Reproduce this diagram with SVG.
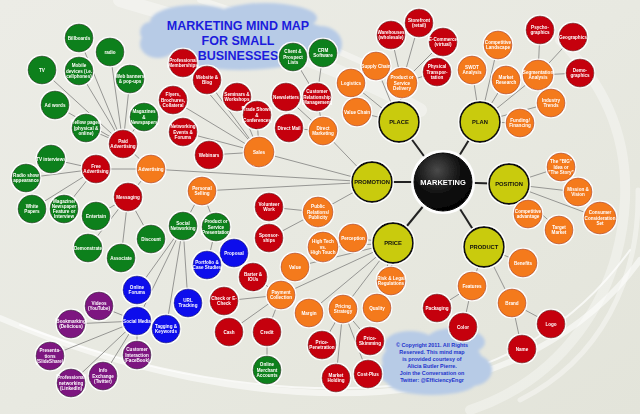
<svg xmlns="http://www.w3.org/2000/svg" width="640" height="414" viewBox="0 0 640 414">
<defs>
<linearGradient id="bg" x1="0" y1="0" x2="1" y2="1">
<stop offset="0" stop-color="#ecece6"/><stop offset="0.5" stop-color="#e8e9e1"/><stop offset="1" stop-color="#e3e4da"/>
</linearGradient>
<radialGradient id="mk" cx="0.4" cy="0.3" r="0.8">
<stop offset="0" stop-color="#4a4a4a"/><stop offset="0.5" stop-color="#111"/><stop offset="1" stop-color="#000"/>
</radialGradient>
<filter id="halo" x="-20%" y="-20%" width="140%" height="140%">
<feMorphology in="SourceAlpha" operator="dilate" radius="1.2" result="d"/>
<feFlood flood-color="#fff"/><feComposite in2="d" operator="in" result="w"/>
<feMerge><feMergeNode in="w"/><feMergeNode in="SourceGraphic"/></feMerge>
</filter>
<filter id="soft"><feGaussianBlur stdDeviation="1.5"/></filter>
</defs>
<style>
.n{filter:url(#halo)}
.n text{font-family:"Liberation Sans",Arial,sans-serif;font-weight:bold;font-size:4.6px;fill:#fff;text-anchor:middle}
.r{fill:#c5000f;stroke:#80000a;stroke-width:0.8}
.o{fill:#f47a1e;stroke:#b85512;stroke-width:0.8}
.g{fill:#11801a;stroke:#0a4d0e;stroke-width:0.8}
.b{fill:#0c0cec;stroke:#00008c;stroke-width:0.8}
.p{fill:#7d1580;stroke:#4a0a4c;stroke-width:0.8}
.y{fill:#c9cb0c;stroke:#111;stroke-width:1.8}
.n text.k{fill:#111;font-size:5.8px}
.c line{stroke:#8c8c8a;stroke-width:0.9}
.m line{stroke:#222;stroke-width:2}
.cl{fill:#b7cbe6}
.t{font-family:"Liberation Sans",Arial,sans-serif;font-weight:bold;text-anchor:middle}
</style>
<rect width="640" height="414" fill="url(#bg)"/>
<g fill="none" stroke="#fff" stroke-linecap="round">
<path d="M0,318 C120,370 260,400 380,392 C500,384 590,330 640,260" stroke-width="6" opacity="0.55"/>
<path d="M20,325 C140,372 270,396 390,386 C500,376 580,320 630,250" stroke-width="2" opacity="0.7"/>
<path d="M470,410 C560,380 620,300 625,200 C628,130 600,80 560,40" stroke-width="10" opacity="0.35"/>
<path d="M520,400 C600,360 640,280 638,190" stroke-width="5" opacity="0.4"/>
<path d="M120,0 C220,30 330,60 420,110" stroke-width="14" opacity="0.35"/>
<path d="M200,0 C280,25 340,50 400,80" stroke-width="6" opacity="0.4"/>
</g>
<g id="title-cloud">
<g class="cl" filter="url(#soft)">
<ellipse cx="240" cy="38" rx="95" ry="22"/>
<ellipse cx="195" cy="22" rx="45" ry="17"/>
<ellipse cx="265" cy="18" rx="52" ry="15"/>
<ellipse cx="158" cy="44" rx="18" ry="14"/>
<ellipse cx="320" cy="44" rx="22" ry="18"/>
<ellipse cx="240" cy="58" rx="62" ry="12"/>
<ellipse cx="150" cy="32" rx="10" ry="10"/>
</g>
<text class="t" x="238" y="30" font-size="12.5" fill="#1c1cdc">MARKETING MIND MAP</text>
<text class="t" x="238" y="45" font-size="12.5" fill="#1c1cdc">FOR SMALL</text>
<text class="t" x="238" y="60" font-size="12.5" fill="#1c1cdc">BUSINESSES</text>
</g>
<g id="copyright-cloud">
<g class="cl" filter="url(#soft)">
<ellipse cx="432" cy="360" rx="50" ry="24"/>
<ellipse cx="410" cy="345" rx="26" ry="14"/>
<ellipse cx="455" cy="342" rx="30" ry="14"/>
<ellipse cx="432" cy="383" rx="44" ry="12"/>
<ellipse cx="398" cy="372" rx="18" ry="14"/>
<ellipse cx="472" cy="370" rx="20" ry="16"/>
</g>
<g class="t" font-size="5.4" fill="#2233cc">
<text x="432" y="347">© Copyright 2011.  All Rights</text>
<text x="432" y="354">Reserved.  This mind map</text>
<text x="432" y="361">is provided courtesy of</text>
<text x="432" y="368">Alicia Butler Pierre.</text>
<text x="432" y="375">Join the Conversation on</text>
<text x="432" y="382">Twitter: @EfficiencyEngr</text>
</g>
</g>
<g id="connectors">
<g class="c">
<line x1="399" y1="122" x2="376" y2="66"/><line x1="399" y1="122" x2="351" y2="83"/><line x1="399" y1="122" x2="357" y2="112"/><line x1="399" y1="122" x2="402" y2="83"/>
<line x1="402" y1="83" x2="391" y2="35"/><line x1="402" y1="83" x2="419" y2="23"/><line x1="402" y1="83" x2="443" y2="42"/><line x1="402" y1="83" x2="437" y2="72"/>
<line x1="480" y1="122" x2="472" y2="70"/><line x1="480" y1="122" x2="498" y2="45"/><line x1="480" y1="122" x2="506" y2="80"/><line x1="480" y1="122" x2="538" y2="75"/><line x1="480" y1="122" x2="551" y2="103"/><line x1="480" y1="122" x2="520" y2="123"/>
<line x1="538" y1="75" x2="540" y2="30"/><line x1="538" y1="75" x2="573" y2="37"/><line x1="538" y1="75" x2="580" y2="73"/>
<line x1="509" y1="184" x2="561" y2="167"/><line x1="509" y1="184" x2="578" y2="192"/><line x1="509" y1="184" x2="600" y2="218"/><line x1="509" y1="184" x2="559" y2="230"/><line x1="509" y1="184" x2="528" y2="214"/>
<line x1="484" y1="247" x2="523" y2="263"/><line x1="484" y1="247" x2="472" y2="286"/><line x1="484" y1="247" x2="512" y2="303"/>
<line x1="472" y1="286" x2="437" y2="308"/><line x1="472" y1="286" x2="463" y2="327"/>
<line x1="512" y1="303" x2="551" y2="324"/><line x1="512" y1="303" x2="522" y2="349"/>
<line x1="393" y1="243" x2="323" y2="247"/><line x1="393" y1="243" x2="353" y2="238"/><line x1="393" y1="243" x2="295" y2="267"/><line x1="393" y1="243" x2="281" y2="295"/><line x1="393" y1="243" x2="309" y2="313"/><line x1="393" y1="243" x2="343" y2="309"/><line x1="393" y1="243" x2="377" y2="308"/><line x1="393" y1="243" x2="391" y2="281"/>
<line x1="281" y1="295" x2="253" y2="277"/><line x1="281" y1="295" x2="224" y2="301"/><line x1="281" y1="295" x2="229" y2="332"/><line x1="281" y1="295" x2="267" y2="332"/>
<line x1="267" y1="332" x2="267" y2="370"/>
<line x1="343" y1="309" x2="322" y2="345"/><line x1="343" y1="309" x2="370" y2="341"/><line x1="343" y1="309" x2="336" y2="378"/><line x1="343" y1="309" x2="368" y2="374"/>
<line x1="372" y1="182" x2="259" y2="152"/><line x1="372" y1="182" x2="151" y2="169"/><line x1="372" y1="182" x2="202" y2="191"/><line x1="372" y1="182" x2="318" y2="212"/><line x1="372" y1="182" x2="323" y2="131"/>
<line x1="318" y1="212" x2="269" y2="207"/><line x1="318" y1="212" x2="269" y2="238"/>
<line x1="259" y1="152" x2="183" y2="63"/><line x1="259" y1="152" x2="207" y2="80"/><line x1="259" y1="152" x2="173" y2="100"/><line x1="259" y1="152" x2="237" y2="97"/><line x1="259" y1="152" x2="257" y2="115"/><line x1="259" y1="152" x2="183" y2="132"/><line x1="259" y1="152" x2="209" y2="155"/>
<line x1="323" y1="131" x2="286" y2="97"/><line x1="323" y1="131" x2="317" y2="97"/><line x1="323" y1="131" x2="289" y2="128"/>
<line x1="317" y1="97" x2="293" y2="57"/><line x1="317" y1="97" x2="323" y2="53"/>
<line x1="151" y1="169" x2="123" y2="144"/><line x1="151" y1="169" x2="96" y2="169"/><line x1="151" y1="169" x2="128" y2="197"/>
<line x1="123" y1="144" x2="79" y2="38"/><line x1="123" y1="144" x2="110" y2="52"/><line x1="123" y1="144" x2="42" y2="70"/><line x1="123" y1="144" x2="79" y2="71"/><line x1="123" y1="144" x2="130" y2="79"/><line x1="123" y1="144" x2="55" y2="105"/><line x1="123" y1="144" x2="144" y2="117"/><line x1="123" y1="144" x2="86" y2="128"/>
<line x1="96" y1="169" x2="51" y2="159"/><line x1="96" y1="169" x2="26" y2="178"/><line x1="96" y1="169" x2="32" y2="209"/><line x1="96" y1="169" x2="64" y2="209"/>
<line x1="128" y1="197" x2="96" y2="216"/><line x1="128" y1="197" x2="88" y2="248"/><line x1="128" y1="197" x2="121" y2="258"/><line x1="128" y1="197" x2="151" y2="239"/>
<line x1="202" y1="191" x2="183" y2="226"/><line x1="202" y1="191" x2="216" y2="227"/>
<line x1="216" y1="227" x2="234" y2="253"/><line x1="216" y1="227" x2="207" y2="265"/>
<line x1="183" y1="226" x2="137" y2="290"/><line x1="183" y1="226" x2="137" y2="321"/><line x1="183" y1="226" x2="188" y2="303"/><line x1="183" y1="226" x2="166" y2="329"/>
<line x1="137" y1="321" x2="99" y2="306"/><line x1="137" y1="321" x2="71" y2="324"/><line x1="137" y1="321" x2="50" y2="356"/><line x1="137" y1="321" x2="71" y2="383"/><line x1="137" y1="321" x2="103" y2="376"/><line x1="137" y1="321" x2="137" y2="355"/>
</g>
<g class="m">
<line x1="443" y1="182" x2="399" y2="122"/><line x1="443" y1="182" x2="480" y2="122"/><line x1="443" y1="182" x2="509" y2="184"/><line x1="443" y1="182" x2="484" y2="247"/><line x1="443" y1="182" x2="393" y2="243"/><line x1="443" y1="182" x2="372" y2="182"/>
</g>
</g>
<g id="marketing" class="n" transform="translate(443,182)"><circle r="31" fill="#fff" opacity="0.9"/><circle r="29" fill="url(#mk)" stroke="#000" stroke-width="1"/><text y="2.6" style="font-size:7.5px">MARKETING</text></g>
<g id="place" class="n" transform="translate(399,122)"><circle class="y" r="20"/><text class="k" y="2">PLACE</text></g>
<g id="plan" class="n" transform="translate(480,122)"><circle class="y" r="20"/><text class="k" y="2">PLAN</text></g>
<g id="position" class="n" transform="translate(509,184)"><circle class="y" r="20"/><text class="k" y="2">POSITION</text></g>
<g id="product" class="n" transform="translate(484,247)"><circle class="y" r="20"/><text class="k" y="2">PRODUCT</text></g>
<g id="price" class="n" transform="translate(393,243)"><circle class="y" r="20"/><text class="k" y="2">PRICE</text></g>
<g id="promotion" class="n" transform="translate(372,182)"><circle class="y" r="20"/><text class="k" y="2">PROMOTION</text></g>
<g id="supply-chain" class="n" transform="translate(376,66)"><circle class="o" r="14"/><text y="1.6">Supply Chain</text></g>
<g id="logistics" class="n" transform="translate(351,83)"><circle class="o" r="14"/><text y="1.6">Logistics</text></g>
<g id="value-chain" class="n" transform="translate(357,112)"><circle class="o" r="14"/><text y="1.6">Value Chain</text></g>
<g id="delivery" class="n" transform="translate(402,83)"><circle class="o" r="15"/><text y="-3.6"><tspan x="0">Product or</tspan><tspan x="0" dy="5.2">Service</tspan><tspan x="0" dy="5.2">Delivery</tspan></text></g>
<g id="warehouses" class="n" transform="translate(391,35)"><circle class="r" r="14"/><text y="-1"><tspan x="0">Warehouses</tspan><tspan x="0" dy="5.2">(wholesale)</tspan></text></g>
<g id="storefront" class="n" transform="translate(419,23)"><circle class="r" r="14"/><text y="-1"><tspan x="0">Storefront</tspan><tspan x="0" dy="5.2">(retail)</tspan></text></g>
<g id="ecommerce" class="n" transform="translate(443,42)"><circle class="r" r="14"/><text y="-1"><tspan x="0">E-Commerce</tspan><tspan x="0" dy="5.2">(virtual)</tspan></text></g>
<g id="physical-transportation" class="n" transform="translate(437,72)"><circle class="r" r="14"/><text y="-3.6"><tspan x="0">Physical</tspan><tspan x="0" dy="5.2">Transpor-</tspan><tspan x="0" dy="5.2">tation</tspan></text></g>
<g id="swot" class="n" transform="translate(472,70)"><circle class="o" r="14"/><text y="-1"><tspan x="0">SWOT</tspan><tspan x="0" dy="5.2">Analysis</tspan></text></g>
<g id="competitive-landscape" class="n" transform="translate(498,45)"><circle class="o" r="14"/><text y="-1"><tspan x="0">Competitive</tspan><tspan x="0" dy="5.2">Landscape</tspan></text></g>
<g id="market-research" class="n" transform="translate(506,80)"><circle class="o" r="14"/><text y="-1"><tspan x="0">Market</tspan><tspan x="0" dy="5.2">Research</tspan></text></g>
<g id="segmentation" class="n" transform="translate(538,75)"><circle class="o" r="15"/><text y="-1"><tspan x="0">Segmentation</tspan><tspan x="0" dy="5.2">Analysis</tspan></text></g>
<g id="industry-trends" class="n" transform="translate(551,103)"><circle class="o" r="14"/><text y="-1"><tspan x="0">Industry</tspan><tspan x="0" dy="5.2">Trends</tspan></text></g>
<g id="funding" class="n" transform="translate(520,123)"><circle class="o" r="14"/><text y="-1"><tspan x="0">Funding/</tspan><tspan x="0" dy="5.2">Financing</tspan></text></g>
<g id="psychographics" class="n" transform="translate(540,30)"><circle class="r" r="14"/><text y="-1"><tspan x="0">Psycho-</tspan><tspan x="0" dy="5.2">graphics</tspan></text></g>
<g id="geographics" class="n" transform="translate(573,37)"><circle class="r" r="14"/><text y="1.6">Geographics</text></g>
<g id="demographics" class="n" transform="translate(580,73)"><circle class="r" r="14"/><text y="-1"><tspan x="0">Demo-</tspan><tspan x="0" dy="5.2">graphics</tspan></text></g>
<g id="big-idea" class="n" transform="translate(561,167)"><circle class="o" r="14"/><text y="-3.6"><tspan x="0">The "BIG"</tspan><tspan x="0" dy="5.2">Idea or</tspan><tspan x="0" dy="5.2">"The Story"</tspan></text></g>
<g id="mission" class="n" transform="translate(578,192)"><circle class="o" r="14"/><text y="-1"><tspan x="0">Mission &amp;</tspan><tspan x="0" dy="5.2">Vision</tspan></text></g>
<g id="consideration-set" class="n" transform="translate(600,218)"><circle class="o" r="16"/><text y="-3.6"><tspan x="0">Consumer</tspan><tspan x="0" dy="5.2">Consideration</tspan><tspan x="0" dy="5.2">Set</tspan></text></g>
<g id="target-market" class="n" transform="translate(559,230)"><circle class="o" r="14"/><text y="-1"><tspan x="0">Target</tspan><tspan x="0" dy="5.2">Market</tspan></text></g>
<g id="competitive-advantage" class="n" transform="translate(528,214)"><circle class="o" r="14"/><text y="-1"><tspan x="0">Competitive</tspan><tspan x="0" dy="5.2">advantage</tspan></text></g>
<g id="benefits" class="n" transform="translate(523,263)"><circle class="o" r="14"/><text y="1.6">Benefits</text></g>
<g id="features" class="n" transform="translate(472,286)"><circle class="o" r="14"/><text y="1.6">Features</text></g>
<g id="brand" class="n" transform="translate(512,303)"><circle class="o" r="14"/><text y="1.6">Brand</text></g>
<g id="packaging" class="n" transform="translate(437,308)"><circle class="r" r="14"/><text y="1.6">Packaging</text></g>
<g id="color" class="n" transform="translate(463,327)"><circle class="r" r="14"/><text y="1.6">Color</text></g>
<g id="logo" class="n" transform="translate(551,324)"><circle class="r" r="14"/><text y="1.6">Logo</text></g>
<g id="name" class="n" transform="translate(522,349)"><circle class="r" r="14"/><text y="1.6">Name</text></g>
<g id="high-tech" class="n" transform="translate(323,247)"><circle class="o" r="15"/><text y="-3.6"><tspan x="0">High Tech</tspan><tspan x="0" dy="5.2">vs.</tspan><tspan x="0" dy="5.2">High Touch</tspan></text></g>
<g id="perception" class="n" transform="translate(353,238)"><circle class="o" r="14"/><text y="1.6">Perception</text></g>
<g id="value" class="n" transform="translate(295,267)"><circle class="o" r="14"/><text y="1.6">Value</text></g>
<g id="payment-collection" class="n" transform="translate(281,295)"><circle class="o" r="14"/><text y="-1"><tspan x="0">Payment</tspan><tspan x="0" dy="5.2">Collection</tspan></text></g>
<g id="margin" class="n" transform="translate(309,313)"><circle class="o" r="14"/><text y="1.6">Margin</text></g>
<g id="pricing-strategy" class="n" transform="translate(343,309)"><circle class="o" r="14"/><text y="-1"><tspan x="0">Pricing</tspan><tspan x="0" dy="5.2">Strategy</tspan></text></g>
<g id="quality" class="n" transform="translate(377,308)"><circle class="o" r="14"/><text y="1.6">Quality</text></g>
<g id="risk-legal" class="n" transform="translate(391,281)"><circle class="o" r="14"/><text y="-1"><tspan x="0">Risk &amp; Legal</tspan><tspan x="0" dy="5.2">Regulations</tspan></text></g>
<g id="barter" class="n" transform="translate(253,277)"><circle class="r" r="14"/><text y="-1"><tspan x="0">Barter &amp;</tspan><tspan x="0" dy="5.2">IOUs</tspan></text></g>
<g id="check" class="n" transform="translate(224,301)"><circle class="r" r="14"/><text y="-1"><tspan x="0">Check or E-</tspan><tspan x="0" dy="5.2">Check</tspan></text></g>
<g id="cash" class="n" transform="translate(229,332)"><circle class="r" r="14"/><text y="1.6">Cash</text></g>
<g id="credit" class="n" transform="translate(267,332)"><circle class="r" r="14"/><text y="1.6">Credit</text></g>
<g id="online-merchant" class="n" transform="translate(267,370)"><circle class="g" r="14"/><text y="-3.6"><tspan x="0">Online</tspan><tspan x="0" dy="5.2">Merchant</tspan><tspan x="0" dy="5.2">Accounts</tspan></text></g>
<g id="price-penetration" class="n" transform="translate(322,345)"><circle class="r" r="14"/><text y="-1"><tspan x="0">Price-</tspan><tspan x="0" dy="5.2">Penetration</tspan></text></g>
<g id="price-skimming" class="n" transform="translate(370,341)"><circle class="r" r="14"/><text y="-1"><tspan x="0">Price-</tspan><tspan x="0" dy="5.2">Skimming</tspan></text></g>
<g id="market-holding" class="n" transform="translate(336,378)"><circle class="r" r="14"/><text y="-1"><tspan x="0">Market</tspan><tspan x="0" dy="5.2">Holding</tspan></text></g>
<g id="cost-plus" class="n" transform="translate(368,374)"><circle class="r" r="14"/><text y="1.6">Cost-Plus</text></g>
<g id="public-relations" class="n" transform="translate(318,212)"><circle class="o" r="15"/><text y="-3.6"><tspan x="0">Public</tspan><tspan x="0" dy="5.2">Relations/</tspan><tspan x="0" dy="5.2">Publicity</tspan></text></g>
<g id="volunteer" class="n" transform="translate(269,207)"><circle class="r" r="14"/><text y="-1"><tspan x="0">Volunteer</tspan><tspan x="0" dy="5.2">Work</tspan></text></g>
<g id="sponsorships" class="n" transform="translate(269,238)"><circle class="r" r="14"/><text y="-1"><tspan x="0">Sponsor-</tspan><tspan x="0" dy="5.2">ships</tspan></text></g>
<g id="sales" class="n" transform="translate(259,152)"><circle class="o" r="15"/><text y="1.6">Sales</text></g>
<g id="direct-marketing" class="n" transform="translate(323,131)"><circle class="o" r="14"/><text y="-1"><tspan x="0">Direct</tspan><tspan x="0" dy="5.2">Marketing</tspan></text></g>
<g id="newsletters" class="n" transform="translate(286,97)"><circle class="r" r="14"/><text y="1.6">Newsletters</text></g>
<g id="crm-management" class="n" transform="translate(317,97)"><circle class="r" r="14"/><text y="-3.6"><tspan x="0">Customer</tspan><tspan x="0" dy="5.2">Relationship</tspan><tspan x="0" dy="5.2">Management</tspan></text></g>
<g id="direct-mail" class="n" transform="translate(289,128)"><circle class="r" r="14"/><text y="1.6">Direct Mail</text></g>
<g id="client-lists" class="n" transform="translate(293,57)"><circle class="g" r="14"/><text y="-3.6"><tspan x="0">Client &amp;</tspan><tspan x="0" dy="5.2">Prospect</tspan><tspan x="0" dy="5.2">Lists</tspan></text></g>
<g id="crm-software" class="n" transform="translate(323,53)"><circle class="g" r="14"/><text y="-1"><tspan x="0">CRM</tspan><tspan x="0" dy="5.2">Software</tspan></text></g>
<g id="professional-memberships" class="n" transform="translate(183,63)"><circle class="r" r="14"/><text y="-1"><tspan x="0">Professional</tspan><tspan x="0" dy="5.2">Memberships</tspan></text></g>
<g id="website-blog" class="n" transform="translate(207,80)"><circle class="r" r="14"/><text y="-1"><tspan x="0">Website &amp;</tspan><tspan x="0" dy="5.2">Blog</tspan></text></g>
<g id="flyers" class="n" transform="translate(173,100)"><circle class="r" r="14"/><text y="-3.6"><tspan x="0">Flyers,</tspan><tspan x="0" dy="5.2">Brochures,</tspan><tspan x="0" dy="5.2">Collateral</tspan></text></g>
<g id="seminars" class="n" transform="translate(237,97)"><circle class="r" r="14"/><text y="-1"><tspan x="0">Seminars &amp;</tspan><tspan x="0" dy="5.2">Workshops</tspan></text></g>
<g id="trade-shows" class="n" transform="translate(257,115)"><circle class="r" r="14"/><text y="-3.6"><tspan x="0">Trade Shows</tspan><tspan x="0" dy="5.2">&amp;</tspan><tspan x="0" dy="5.2">Conferences</tspan></text></g>
<g id="networking-events" class="n" transform="translate(183,132)"><circle class="r" r="14"/><text y="-3.6"><tspan x="0">Networking</tspan><tspan x="0" dy="5.2">Events &amp;</tspan><tspan x="0" dy="5.2">Forums</tspan></text></g>
<g id="webinars" class="n" transform="translate(209,155)"><circle class="r" r="14"/><text y="1.6">Webinars</text></g>
<g id="advertising" class="n" transform="translate(151,169)"><circle class="o" r="14"/><text y="1.6">Advertising</text></g>
<g id="paid-advertising" class="n" transform="translate(123,144)"><circle class="r" r="14"/><text y="-1"><tspan x="0">Paid</tspan><tspan x="0" dy="5.2">Advertising</tspan></text></g>
<g id="free-advertising" class="n" transform="translate(96,169)"><circle class="r" r="14"/><text y="-1"><tspan x="0">Free</tspan><tspan x="0" dy="5.2">Advertising</tspan></text></g>
<g id="messaging" class="n" transform="translate(128,197)"><circle class="r" r="14"/><text y="1.6">Messaging</text></g>
<g id="billboards" class="n" transform="translate(79,38)"><circle class="g" r="14"/><text y="1.6">Billboards</text></g>
<g id="radio" class="n" transform="translate(110,52)"><circle class="g" r="14"/><text y="1.6">radio</text></g>
<g id="tv" class="n" transform="translate(42,70)"><circle class="g" r="14"/><text y="1.6">TV</text></g>
<g id="mobile" class="n" transform="translate(79,71)"><circle class="g" r="14"/><text y="-3.6"><tspan x="0">Mobile</tspan><tspan x="0" dy="5.2">devices (i.e.</tspan><tspan x="0" dy="5.2">cellphones)</tspan></text></g>
<g id="web-banners" class="n" transform="translate(130,79)"><circle class="g" r="14"/><text y="-1"><tspan x="0">Web banners</tspan><tspan x="0" dy="5.2">&amp; pop-ups</tspan></text></g>
<g id="ad-words" class="n" transform="translate(55,105)"><circle class="g" r="14"/><text y="1.6">Ad words</text></g>
<g id="magazines" class="n" transform="translate(144,117)"><circle class="g" r="14"/><text y="-3.6"><tspan x="0">Magazines</tspan><tspan x="0" dy="5.2">&amp;</tspan><tspan x="0" dy="5.2">Newspapers</tspan></text></g>
<g id="yellow-pages" class="n" transform="translate(86,128)"><circle class="g" r="14"/><text y="-3.6"><tspan x="0">Yellow pages</tspan><tspan x="0" dy="5.2">(physical &amp;</tspan><tspan x="0" dy="5.2">online)</tspan></text></g>
<g id="tv-interviews" class="n" transform="translate(51,159)"><circle class="g" r="14"/><text y="1.6">TV interviews</text></g>
<g id="radio-show" class="n" transform="translate(26,178)"><circle class="g" r="14"/><text y="-1"><tspan x="0">Radio show</tspan><tspan x="0" dy="5.2">appearance</tspan></text></g>
<g id="white-papers" class="n" transform="translate(32,209)"><circle class="g" r="14"/><text y="-1"><tspan x="0">White</tspan><tspan x="0" dy="5.2">Papers</tspan></text></g>
<g id="feature-interview" class="n" transform="translate(64,209)"><circle class="g" r="14"/><text y="-6.2"><tspan x="0">Magazine/</tspan><tspan x="0" dy="5.2">Newspaper</tspan><tspan x="0" dy="5.2">Feature or</tspan><tspan x="0" dy="5.2">Interview</tspan></text></g>
<g id="entertain" class="n" transform="translate(96,216)"><circle class="g" r="14"/><text y="1.6">Entertain</text></g>
<g id="demonstrate" class="n" transform="translate(88,248)"><circle class="g" r="14"/><text y="1.6">Demonstrate</text></g>
<g id="associate" class="n" transform="translate(121,258)"><circle class="g" r="14"/><text y="1.6">Associate</text></g>
<g id="discount" class="n" transform="translate(151,239)"><circle class="g" r="14"/><text y="1.6">Discount</text></g>
<g id="personal-selling" class="n" transform="translate(202,191)"><circle class="o" r="14"/><text y="-1"><tspan x="0">Personal</tspan><tspan x="0" dy="5.2">Selling</tspan></text></g>
<g id="social-networking" class="n" transform="translate(183,226)"><circle class="g" r="14"/><text y="-1"><tspan x="0">Social</tspan><tspan x="0" dy="5.2">Networking</tspan></text></g>
<g id="presentation" class="n" transform="translate(216,227)"><circle class="g" r="14"/><text y="-3.6"><tspan x="0">Product or</tspan><tspan x="0" dy="5.2">Service</tspan><tspan x="0" dy="5.2">Presentation</tspan></text></g>
<g id="proposal" class="n" transform="translate(234,253)"><circle class="b" r="14"/><text y="1.6">Proposal</text></g>
<g id="portfolio" class="n" transform="translate(207,265)"><circle class="b" r="14"/><text y="-1"><tspan x="0">Portfolio &amp;</tspan><tspan x="0" dy="5.2">Case Studies</tspan></text></g>
<g id="online-forums" class="n" transform="translate(137,290)"><circle class="b" r="14"/><text y="-1"><tspan x="0">Online</tspan><tspan x="0" dy="5.2">Forums</tspan></text></g>
<g id="social-media" class="n" transform="translate(137,321)"><circle class="b" r="14"/><text y="1.6">Social Media</text></g>
<g id="url-tracking" class="n" transform="translate(188,303)"><circle class="b" r="14"/><text y="-1"><tspan x="0">URL</tspan><tspan x="0" dy="5.2">Tracking</tspan></text></g>
<g id="tagging" class="n" transform="translate(166,329)"><circle class="b" r="14"/><text y="-1"><tspan x="0">Tagging &amp;</tspan><tspan x="0" dy="5.2">Keywords</tspan></text></g>
<g id="videos" class="n" transform="translate(99,306)"><circle class="p" r="14"/><text y="-1"><tspan x="0">Videos</tspan><tspan x="0" dy="5.2">(YouTube)</tspan></text></g>
<g id="bookmarking" class="n" transform="translate(71,324)"><circle class="p" r="14"/><text y="-1"><tspan x="0">Bookmarking</tspan><tspan x="0" dy="5.2">(Delicious)</tspan></text></g>
<g id="presentations" class="n" transform="translate(50,356)"><circle class="p" r="14"/><text y="-3.6"><tspan x="0">Presenta-</tspan><tspan x="0" dy="5.2">tions</tspan><tspan x="0" dy="5.2">(SlideShare)</tspan></text></g>
<g id="linkedin" class="n" transform="translate(71,383)"><circle class="p" r="14"/><text y="-3.6"><tspan x="0">Professional</tspan><tspan x="0" dy="5.2">networking</tspan><tspan x="0" dy="5.2">(LinkedIn)</tspan></text></g>
<g id="twitter" class="n" transform="translate(103,376)"><circle class="p" r="14"/><text y="-3.6"><tspan x="0">Info</tspan><tspan x="0" dy="5.2">Exchange</tspan><tspan x="0" dy="5.2">(Twitter)</tspan></text></g>
<g id="facebook" class="n" transform="translate(137,355)"><circle class="p" r="14"/><text y="-3.6"><tspan x="0">Customer</tspan><tspan x="0" dy="5.2">Interaction</tspan><tspan x="0" dy="5.2">(FaceBook)</tspan></text></g>
</svg>
